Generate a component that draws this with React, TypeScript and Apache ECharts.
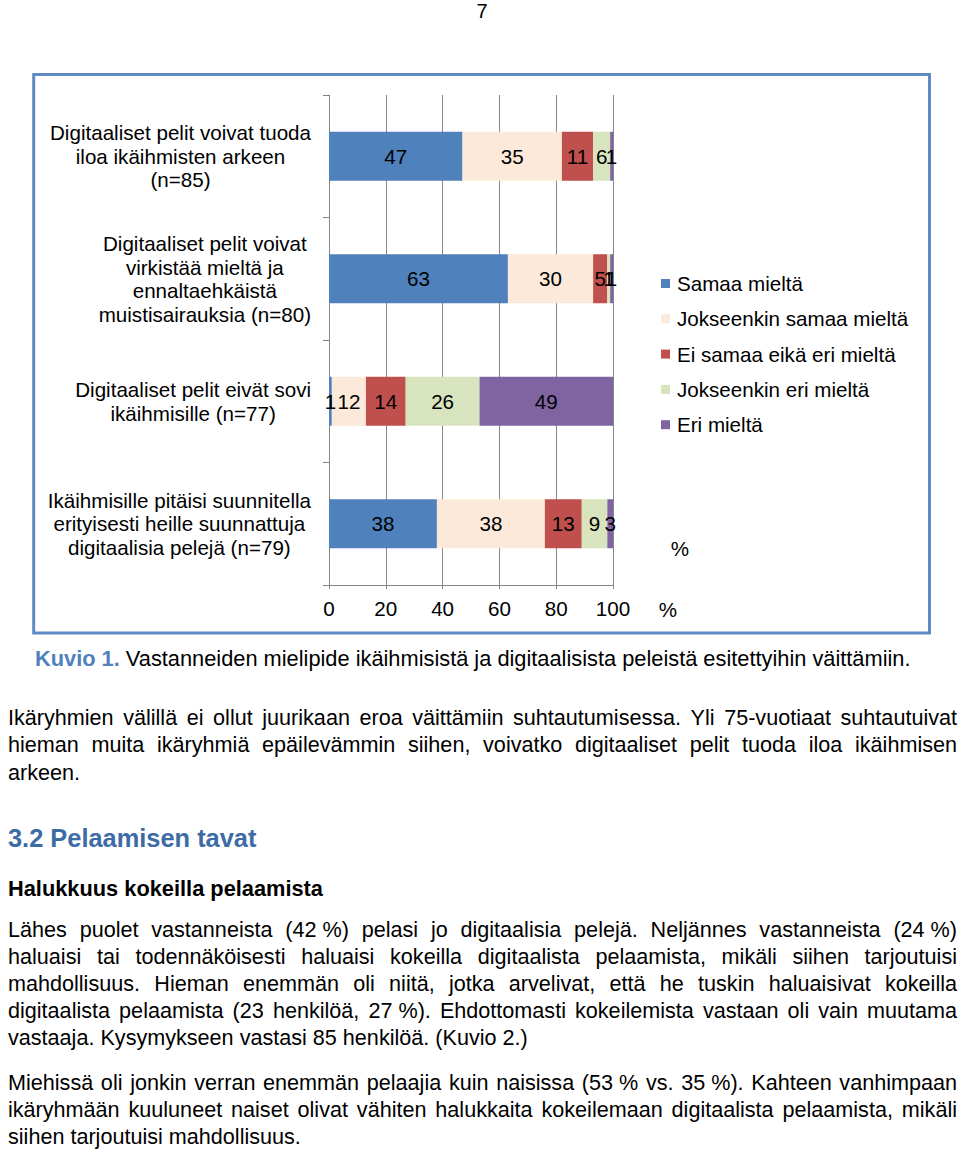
import React, { useEffect, useRef } from "react";
import * as echarts from "echarts";

// ---- chart data ----
const categories = [
  "Digitaaliset pelit voivat tuoda\niloa ikäihmisten arkeen\n(n=85)",
  "Digitaaliset pelit voivat\nvirkistää mieltä ja\nennaltaehkäistä\nmuistisairauksia (n=80)",
  "Digitaaliset pelit eivät sovi\nikäihmisille (n=77)",
  "Ikäihmisille pitäisi suunnitella\nerityisesti heille suunnattuja\ndigitaalisia pelejä (n=79)",
];
const seriesNames = [
  "Samaa mieltä",
  "Jokseenkin samaa mieltä",
  "Ei samaa eikä eri mieltä",
  "Jokseenkin eri mieltä",
  "Eri mieltä",
];
const samaaMielta = [47, 63, 1, 38];
const jokseenkinSamaa = [35, 30, 12, 38];
const eiSamaaEikaEri = [11, 5, 14, 13];
const jokseenkinEri = [6, 1, 26, 9];
const eriMielta = [1, 1, 49, 3];
const xMin = 0;
const xMax = 100;
const xStep = 20;

// ---- page text ----
const pageNumber = "7";
const captionLead = "Kuvio 1.";
const captionRest = "Vastanneiden mielipide ikäihmisistä ja digitaalisista peleistä esitettyihin väittämiin.";
const para1 = [
  "Ikäryhmien välillä ei ollut juurikaan eroa väittämiin suhtautumisessa. Yli 75-vuotiaat suhtautuivat",
  "hieman muita ikäryhmiä epäilevämmin siihen, voivatko digitaaliset pelit tuoda iloa ikäihmisen",
  "arkeen.",
];
const heading = "3.2 Pelaamisen tavat";
const subheading = "Halukkuus kokeilla pelaamista";
const para2 = [
  "Lähes puolet vastanneista (42\u00a0%) pelasi jo digitaalisia pelejä. Neljännes vastanneista (24\u00a0%)",
  "haluaisi tai todennäköisesti haluaisi kokeilla digitaalista pelaamista, mikäli siihen tarjoutuisi",
  "mahdollisuus. Hieman enemmän oli niitä, jotka arvelivat, että he tuskin haluaisivat kokeilla",
  "digitaalista pelaamista (23 henkilöä, 27\u00a0%). Ehdottomasti kokeilemista vastaan oli vain muutama",
  "vastaaja. Kysymykseen vastasi 85 henkilöä. (Kuvio 2.)",
];
const para3 = [
  "Miehissä oli jonkin verran enemmän pelaajia kuin naisissa (53\u00a0% vs. 35\u00a0%). Kahteen vanhimpaan",
  "ikäryhmään kuuluneet naiset olivat vähiten halukkaita kokeilemaan digitaalista pelaamista, mikäli",
  "siihen tarjoutuisi mahdollisuus.",
];

const colors = ["#4f81bd", "#fde9d9", "#c0504d", "#d7e4bd", "#8064a2"];
const FONT = '"Liberation Sans", Arial, Helvetica, sans-serif';

export default function App() {
  const ref = useRef<HTMLDivElement>(null);

  useEffect(() => {
    const el = ref.current;
    if (!el) return;
    const chart = echarts.init(el, null, { renderer: "svg" });

    const canvas = document.createElement("canvas");
    const ctx = canvas.getContext("2d") as CanvasRenderingContext2D;
    const measure = (t: string, size: number, weight = "normal") => {
      ctx.font = `${weight} ${size}px ${FONT}`;
      return ctx.measureText(t).width;
    };

    const TEXT_LEFT = 8;
    const TEXT_RIGHT = 957;
    const BODY = 21.6;
    const CHART_FS = 20.6;
    const graphics: any[] = [];

    const txt = (x: number, y: number, text: string, size: number, opts: any = {}) => ({
      type: "text",
      x,
      y,
      silent: true,
      style: {
        text,
        fontSize: size,
        fontFamily: FONT,
        fontWeight: opts.weight || "normal",
        fill: opts.fill || "#000",
        textAlign: opts.align || "left",
        align: opts.align || "left",
        textVerticalAlign: "middle",
        verticalAlign: "middle",
      },
    });

    const addPara = (lines: string[], startY: number, lh: number) => {
      lines.forEach((line, i) => {
        const y = startY + i * lh;
        const last = i === lines.length - 1;
        const words = line.split(" ");
        const ws = words.map((w) => measure(w, BODY));
        const total = ws.reduce((a, b) => a + b, 0);
        const gap =
          last || words.length < 2
            ? measure(" ", BODY)
            : (TEXT_RIGHT - TEXT_LEFT - total) / (words.length - 1);
        let x = TEXT_LEFT;
        words.forEach((w, j) => {
          graphics.push(txt(x, y, w, BODY));
          x += ws[j] + gap;
        });
      });
    };

    // chart frame
    graphics.push({
      type: "rect",
      silent: true,
      shape: { x: 33.7, y: 74.5, width: 895.8, height: 558.5 },
      style: { fill: "none", stroke: "#5f8ac3", lineWidth: 3 },
    });
    graphics.push(txt(482, 11, pageNumber, 20, { align: "center" }));
    graphics.push(txt(680, 548, "%", CHART_FS, { align: "center" }));
    graphics.push(txt(668, 609, "%", CHART_FS, { align: "center" }));

    // caption
    const CAP = 21.8;
    graphics.push(txt(35, 658, captionLead, CAP, { weight: "bold", fill: "#4f81bd" }));
    const leadW = measure(captionLead + " ", CAP, "bold");
    graphics.push(txt(35 + leadW, 658, captionRest, CAP));

    addPara(para1, 717, 27.5);
    graphics.push(txt(8, 838, heading, 25.4, { weight: "bold", fill: "#3d6ba5" }));
    graphics.push(txt(8, 888, subheading, 21.8, { weight: "bold" }));
    addPara(para2, 929, 27);
    addPara(para3, 1082, 27);

    const seriesData = [samaaMielta, jokseenkinSamaa, eiSamaaEikaEri, jokseenkinEri, eriMielta];

    const option: any = {
      animation: false,
      textStyle: { fontFamily: FONT },
      grid: {
        left: 329,
        top: 95,
        width: 284,
        height: 490,
        containLabel: false,
        outerBoundsMode: "none",
      },
      legend: {
        orient: "vertical",
        left: 661,
        top: 273,
        padding: 0,
        itemWidth: 9,
        itemHeight: 9,
        itemGap: 14.3,
        icon: "rect",
        selectedMode: false,
        data: seriesNames,
        textStyle: { fontSize: CHART_FS, color: "#000", fontFamily: FONT, padding: [0, 0, 0, 2] },
      },
      xAxis: {
        type: "value",
        min: xMin,
        max: xMax,
        interval: xStep,
        axisLine: { show: true, lineStyle: { color: "#868686", width: 1 } },
        axisTick: { show: true, length: 4, lineStyle: { color: "#868686" } },
        splitLine: { show: true, lineStyle: { color: "#868686", width: 1 } },
        axisLabel: { fontSize: CHART_FS, color: "#000", margin: 13, fontFamily: FONT },
      },
      yAxis: {
        type: "category",
        inverse: true,
        data: categories,
        axisLine: { show: true, lineStyle: { color: "#868686", width: 1 } },
        axisTick: { show: true, length: 6, lineStyle: { color: "#868686" } },
        axisLabel: {
          align: "right",
          margin: 18,
          fontSize: CHART_FS,
          lineHeight: 23.5,
          color: "#000",
          fontFamily: FONT,
          formatter: (v: string) =>
            v
              .split("\n")
              .map((l) => `{c|${l}}`)
              .join("\n"),
          rich: {
            c: { align: "center", fontSize: CHART_FS, lineHeight: 23.5, color: "#000", fontFamily: FONT },
          },
        },
      },
      series: seriesNames.map((name, i) => ({
        name,
        type: "bar",
        stack: "total",
        barWidth: 49,
        data: seriesData[i],
        itemStyle: { color: colors[i] },
        label: {
          show: true,
          position: "inside",
          fontSize: CHART_FS,
          color: "#000",
          fontFamily: FONT,
          textBorderWidth: 0,
          formatter: "{c}",
        },
      })),
      graphic: { elements: graphics },
    };

    chart.setOption(option);
    return () => chart.dispose();
  }, []);

  return (
    <div
      ref={ref}
      style={{ position: "absolute", left: 0, top: 0, width: 960, height: 1149, background: "#fff" }}
    />
  );
}
